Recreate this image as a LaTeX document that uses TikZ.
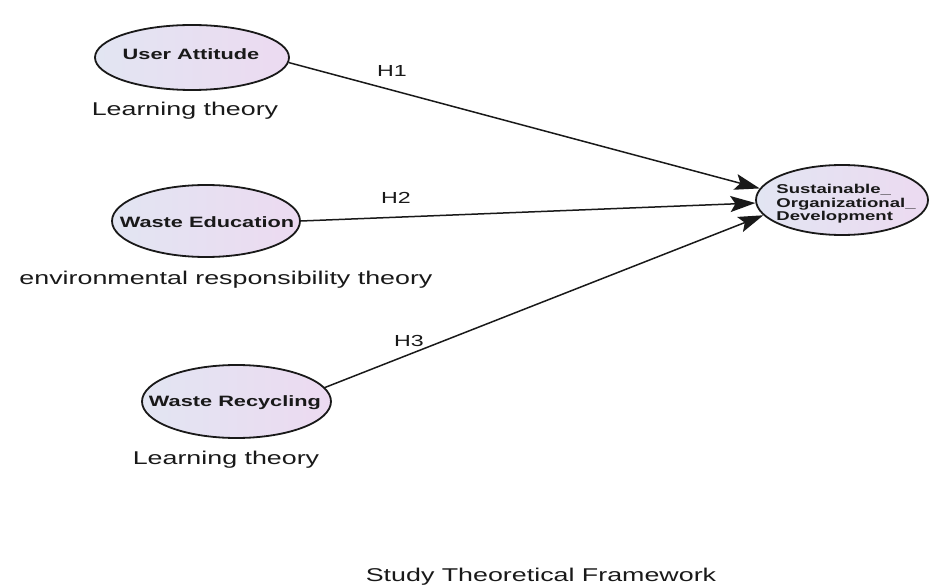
\documentclass[tikz,border=0pt]{standalone}
\usepackage{fontspec}
\setmainfont{Liberation Sans}
\newfontfamily\widefont[FakeStretch=1.45]{Liberation Sans}
\usetikzlibrary{arrows.meta,shapes.geometric}
\definecolor{fillleft}{RGB}{226,229,242}
\definecolor{fillright}{RGB}{236,218,241}
\definecolor{inkline}{RGB}{25,25,25}
\tikzset{
  construct/.style={ellipse, draw=inkline, line width=1.8pt, left color=fillleft, right color=fillright, inner sep=0pt},
  ctext/.style={font=\widefont\bfseries\fontsize{15}{17}\selectfont, inner sep=0pt, text=black!90},
  theory/.style={font=\widefont\fontsize{18.5}{20}\selectfont, anchor=base, inner sep=0pt, text=black!90},
  hyp/.style={font=\widefont\fontsize{16}{18}\selectfont, anchor=base, inner sep=0pt, text=black!90},
  link/.style={draw=inkline, line width=1.5pt, -{Stealth[length=25pt,width=16pt,inset=5pt]}}
}
\begin{document}
\begin{tikzpicture}[x=1pt,y=1pt]
\useasboundingbox (0,0) rectangle (929,-585);
% constructs
\node[construct, minimum width=194pt, minimum height=65pt] (UA) at (192,-57.5) {};
\node[ctext] (UAt) at (191,-54) {User Attitude};
\node[construct, minimum width=188pt, minimum height=72pt] (WE) at (206,-221) {};
\node[ctext] (WEt) at (207,-222) {Waste Education};
\node[construct, minimum width=189pt, minimum height=73pt] (WR) at (236.5,-401.5) {};
\node[ctext] (WRt) at (235,-403) {Waste Recycling};
\node[construct, minimum width=172pt, minimum height=70pt] (SOD) at (842,-200) {};
\node[font=\widefont\bfseries\fontsize{12.8}{13.5}\selectfont, align=left, inner sep=0pt, text=black!90] (SODt) at (846,-204) {Sustainable\_\\Organizational\_\\Development};
% theory labels
\node[theory] (T1) at (185,-116) {Learning theory};
\node[theory] (T2) at (226,-285) {environmental responsibility theory};
\node[theory] (T3) at (226,-464) {Learning theory};
% connectors
\draw[link] (UA.-3) -- (SOD.172);
\draw[link] (WE.0) -- (SOD.182);
\draw[link] (WR.9) -- (SOD.191);
% hypothesis labels
\node[hyp] (H1) at (392,-77) {H1};
\node[hyp] (H2) at (396,-204) {H2};
\node[hyp] (H3) at (409,-346) {H3};
% title
\node[theory] (title) at (541,-581) {Study Theoretical Framework};
\end{tikzpicture}
\end{document}
